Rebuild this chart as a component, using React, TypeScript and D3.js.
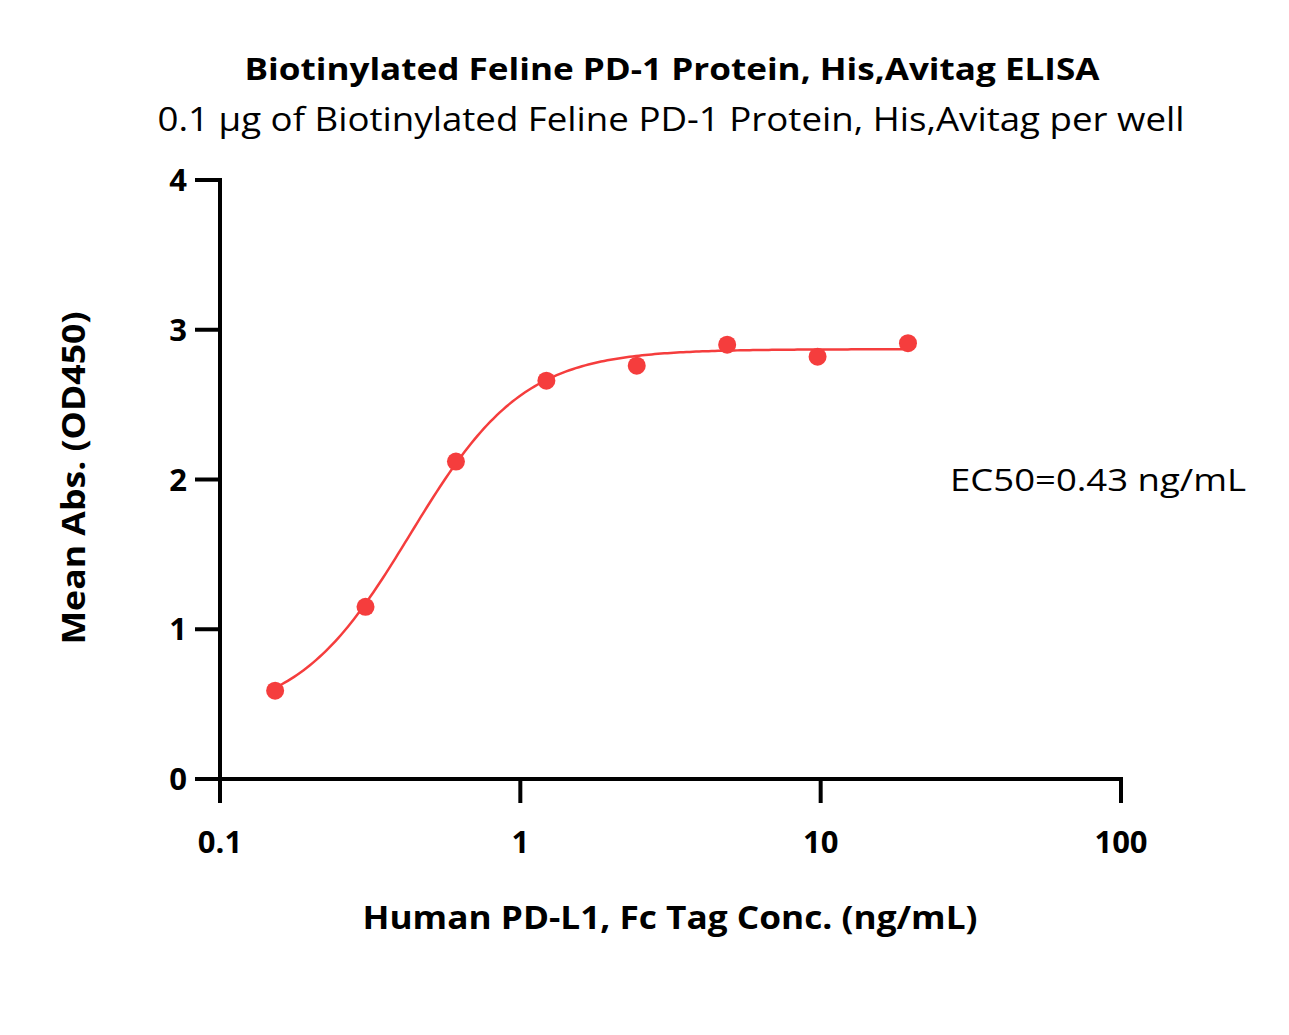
import React from "react";
import * as d3 from "d3";

const concentrations = [0.1526, 0.3052, 0.6104, 1.221, 2.441, 4.883, 9.766, 19.53];
const meanAbs = [0.59, 1.15, 2.12, 2.66, 2.76, 2.90, 2.82, 2.91];
const xTicks = [0.1, 1, 10, 100];
const xTickLabels = ["0.1", "1", "10", "100"];
const yTicks = [0, 1, 2, 3, 4];
// 4PL fit parameters
const fitBottom = 0.4;
const fitTop = 2.87;
const fitEC50 = 0.43;
const fitHill = 2.3;

const title = "Biotinylated Feline PD-1 Protein, His,Avitag ELISA";
const subtitle = "0.1 µg of Biotinylated Feline PD-1 Protein, His,Avitag per well";
const xTitle = "Human PD-L1, Fc Tag Conc. (ng/mL)";
const yTitle = "Mean Abs. (OD450)";
const ec50Label = "EC50=0.43 ng/mL";

const W = 1289;
const H = 1035;
const FONT = "'Open Sans', 'Noto Sans', sans-serif";
const RED = "#f53d3d";

export default function App() {
  const x = d3.scaleLog().domain([0.1, 100]).range([220, 1121]);
  const y = d3.scaleLinear().domain([0, 4]).range([779, 180]);
  const fit = (c: number) => fitBottom + (fitTop - fitBottom) / (1 + Math.pow(fitEC50 / c, fitHill));
  const lx = d3.scaleLog().domain([concentrations[0], concentrations[concentrations.length - 1]]);
  const curvePts: [number, number][] = d3.range(0, 201).map((i) => {
    const c = lx.invert(i / 200);
    return [x(c), y(fit(c))];
  });
  const line = d3.line().curve(d3.curveLinear)(curvePts) || "";

  return (
    <svg width={W} height={H} style={{ display: "block", position: "absolute", left: 0, top: 0 }}>
      <rect width={W} height={H} fill="#fff" />
      <text x={672} y={80} textAnchor="middle" fontFamily={FONT} fontWeight="bold" fontSize={31} textLength={855} lengthAdjust="spacingAndGlyphs">{title}</text>
      <text x={671} y={131} textAnchor="middle" fontFamily={FONT} fontSize={33} textLength={1027} lengthAdjust="spacingAndGlyphs">{subtitle}</text>

      {/* axes */}
      <line x1={220} x2={220} y1={180 - 2} y2={803} stroke="#000" strokeWidth={4} />
      <line x1={218} x2={1123} y1={779} y2={779} stroke="#000" strokeWidth={4} />
      {yTicks.map((t) => (
        <g key={"y" + t}>
          <line x1={195} x2={220} y1={y(t)} y2={y(t)} stroke="#000" strokeWidth={4} />
          <text x={187} y={y(t) + 11} textAnchor="end" fontFamily={FONT} fontWeight="bold" fontSize={31}>{t}</text>
        </g>
      ))}
      {xTicks.map((t, i) => (
        <g key={"x" + t}>
          <line x1={x(t)} x2={x(t)} y1={779} y2={803} stroke="#000" strokeWidth={4} />
          <text x={x(t)} y={853} textAnchor="middle" fontFamily={FONT} fontWeight="bold" fontSize={31}>{xTickLabels[i]}</text>
        </g>
      ))}

      <text x={670} y={929} textAnchor="middle" fontFamily={FONT} fontWeight="bold" fontSize={32} textLength={615} lengthAdjust="spacingAndGlyphs">{xTitle}</text>
      <text transform={`translate(85,478) rotate(-90)`} textAnchor="middle" fontFamily={FONT} fontWeight="bold" fontSize={32} textLength={333} lengthAdjust="spacingAndGlyphs">{yTitle}</text>

      <path d={line} fill="none" stroke={RED} strokeWidth={2.5} />
      {concentrations.map((c, i) => (
        <circle key={i} cx={x(c)} cy={y(meanAbs[i])} r={9} fill={RED} />
      ))}

      <text x={950} y={491} fontFamily={FONT} fontSize={31} textLength={296} lengthAdjust="spacingAndGlyphs">{ec50Label}</text>
    </svg>
  );
}
